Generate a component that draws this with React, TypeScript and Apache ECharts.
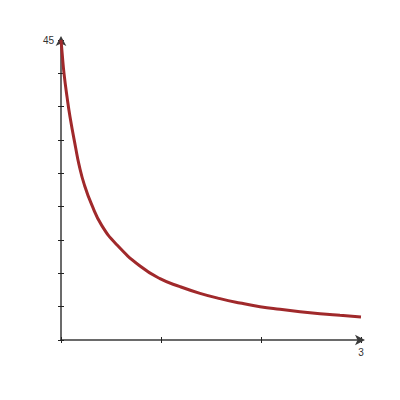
import React, { useEffect, useRef } from "react";
import * as echarts from "echarts";

const xValues = [0, 0.015, 0.03, 0.06, 0.09, 0.147, 0.18, 0.233, 0.307, 0.407, 0.557, 0.79, 0.99, 1.19, 1.39, 1.59, 1.79, 1.99, 2.19, 2.39, 2.59, 2.79, 3];
const yValues = [45, 42.4, 40, 36.5, 33.5, 28.8, 26.3, 23.3, 20.3, 17.2, 14.3, 11.1, 9.2, 8.0, 7.0, 6.2, 5.55, 5.0, 4.6, 4.25, 3.95, 3.7, 3.45];
const xMax = 3;
const yMax = 45;
const yInterval = 5;
const xInterval = 1;

export default function App() {
  const ref = useRef<HTMLDivElement>(null);
  useEffect(() => {
    document.body.style.margin = "0";
    const chart = echarts.init(ref.current!, null, { renderer: "svg" });
    const axisColor = "#3a3a3a";
    const labelStyle = { color: "#333", fontSize: 10, fontFamily: "Liberation Sans, Arial, sans-serif" };
    const common = {
      min: 0,
      splitLine: { show: false },
    };
    chart.setOption({
      animation: false,
      grid: { left: 61, top: 40, right: 39, bottom: 60, containLabel: false },
      xAxis: [
        {
          ...common,
          type: "value",
          max: xMax,
          interval: xInterval,
          axisLine: { show: true, lineStyle: { color: axisColor, width: 1.5 }, symbol: ["none", "arrow"], symbolSize: [8, 10], symbolOffset: [0, 4] },
          axisTick: { show: true, inside: false, length: 3, lineStyle: { color: "#222", width: 1 } },
          axisLabel: {
            ...labelStyle,
            margin: 7,
            formatter: (v: number) => (v === xMax ? String(v) : ""),
          },
        },
        {
          ...common,
          type: "value",
          max: xMax,
          interval: xInterval,
          position: "bottom",
          axisLine: { show: false },
          axisTick: { show: true, inside: true, length: 3, lineStyle: { color: "#222", width: 1 } },
          axisLabel: { show: false },
        },
      ],
      yAxis: [
        {
          ...common,
          type: "value",
          max: yMax,
          interval: yInterval,
          axisLine: { show: true, lineStyle: { color: axisColor, width: 1.5 }, symbol: ["none", "arrow"], symbolSize: [8, 10], symbolOffset: [0, 4] },
          axisTick: { show: true, inside: false, length: 3, lineStyle: { color: "#222", width: 1 } },
          axisLabel: {
            ...labelStyle,
            margin: 7,
            formatter: (v: number) => (v === yMax ? String(v) : ""),
          },
        },
        {
          ...common,
          type: "value",
          max: yMax,
          interval: yInterval,
          position: "left",
          axisLine: { show: false },
          axisTick: { show: true, inside: true, length: 3, lineStyle: { color: "#222", width: 1 } },
          axisLabel: { show: false },
        },
      ],
      series: [
        {
          type: "line",
          data: xValues.map((x, i) => [x, yValues[i]]),
          smooth: 0.5,
          showSymbol: false,
          lineStyle: { color: "#a0292b", width: 3 },
          z: 3,
        },
      ],
    });
    return () => chart.dispose();
  }, []);
  return <div ref={ref} style={{ width: 400, height: 400 }} />;
}
